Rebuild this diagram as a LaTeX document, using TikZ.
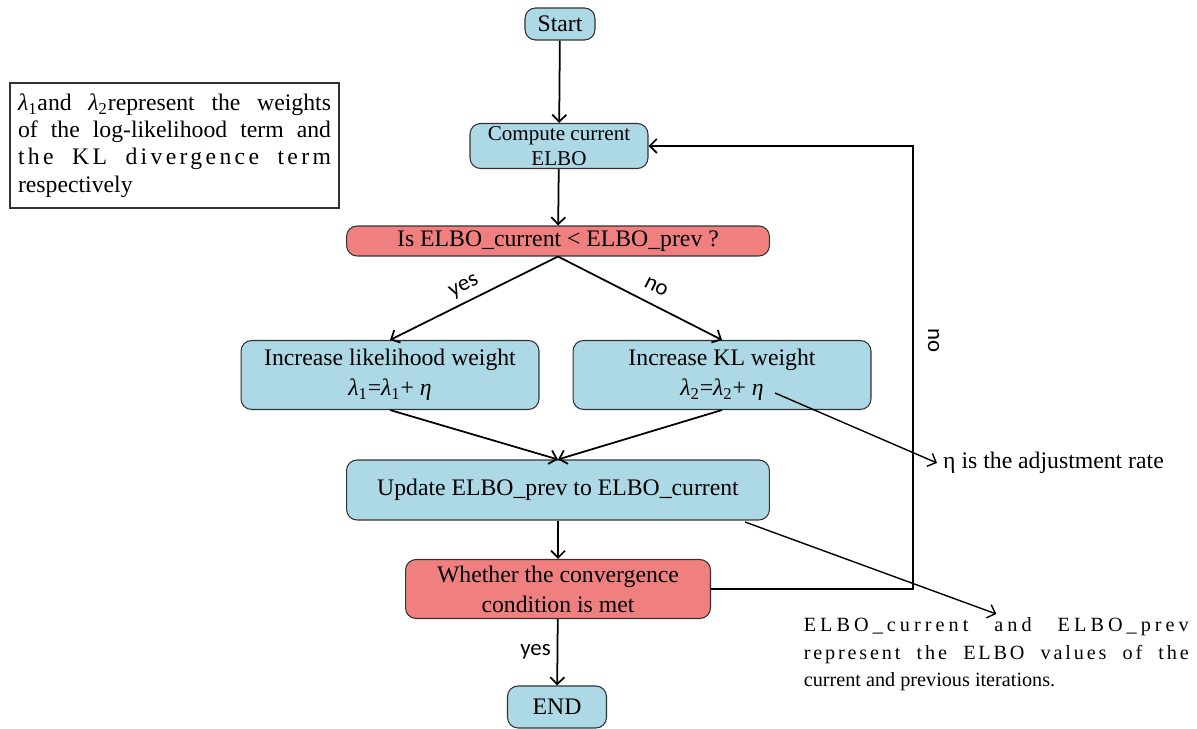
\documentclass[tikz,border=0pt]{standalone}
\usepackage{fontspec}
\setmainfont{Liberation Serif}
\newfontfamily\labelfont{Carlito}
\newfontfamily\trackedfont[LetterSpace=14]{Liberation Serif}
\newfontfamily\widetrackedfont[LetterSpace=20]{Liberation Serif}
\usetikzlibrary{arrows.meta}
\definecolor{boxblue}{RGB}{173,216,230}
\definecolor{boxred}{RGB}{240,128,128}
\definecolor{boxline}{RGB}{50,50,50}
\newcommand{\lam}[1]{\textit{λ}\textsubscript{#1}}
\tikzset{
	>={Straight Barb[length=4pt,width=8pt]},
	bluebox/.style={draw=boxline,fill=boxblue,rounded corners=6pt,line width=.6pt,align=center,inner sep=2pt,font=\fontsize{13.5}{17}\selectfont},
	redbox/.style={bluebox,fill=boxred},
	edge/.style={draw,black,line width=1pt,->},
	thinedge/.style={draw,black,line width=.8pt,->},
	ylabel/.style={font=\labelfont\fontsize{13}{15}\selectfont}
}
\begin{document}
\begin{tikzpicture}[x = {(0.02cm,0cm)},
                    y = {(0cm,-0.02cm)}]

\useasboundingbox (0,0) rectangle (1197,729);

\node[bluebox,minimum width=1.4cm,minimum height=.64cm] (start) at (560,24) {Start};
\node[bluebox,minimum width=3.56cm,minimum height=.9cm,inner ysep=0pt,font=\fontsize{12}{14.5}\selectfont] (compute) at (559,146) {Compute current\\ELBO};
\node[redbox,minimum width=8.46cm,minimum height=.6cm] (decide) at (558,241) {Is ELBO\_current < ELBO\_prev ?};
\node[bluebox,minimum width=5.96cm,minimum height=1.38cm] (incl) at (390,375) {Increase likelihood weight\\\lam{1}=\lam{1}+ \textit{η}};
\node[bluebox,minimum width=5.96cm,minimum height=1.38cm] (inckl) at (722,375) {Increase KL weight\\\lam{2}=\lam{2}+ \textit{η}};
\node[bluebox,minimum width=8.46cm,minimum height=1.2cm] (update) at (558,490) {Update ELBO\_prev to ELBO\_current};
\node[redbox,minimum width=6.1cm,minimum height=1.18cm] (conv) at (558,589) {Whether the convergence\\condition is met};
\node[bluebox,minimum width=1.98cm,minimum height=.84cm] (endn) at (557,707) {END};

\node[draw=boxline,line width=.8pt,text width=6.26cm,align=justify,inner xsep=.16cm,minimum height=2.5cm,font=\fontsize{13.5}{15.5}\selectfont] (legend) at (174.5,145.5)
  {\lam{1}and \lam{2}represent the weights\linebreak of the log-likelihood term and\linebreak {\trackedfont the KL divergence term}\linebreak respectively};

\node[anchor=west,font=\fontsize{13.5}{16}\selectfont] (etanote) at (937,463) {η is the adjustment rate};
\node[anchor=north west,text width=7.7cm,align=justify,inner sep=2pt,font=\fontsize{11.5}{15.5}\selectfont] (elbonote) at (800,614)
  {{\widetrackedfont ELBO\_current and ELBO\_prev}\linebreak {\trackedfont represent the ELBO values of the}\linebreak current and previous iterations.};

\coordinate (turn) at (913,589);
\coordinate (etafrom) at (775,393);
\coordinate (elbofrom) at (745,522);

\draw[edge] (start) to (compute);
\draw[edge] (compute) to (decide);
\draw[edge] (decide.south) to node[ylabel,pos=.52,above=0pt,sloped] {yes} (incl.north);
\draw[edge] (decide.south) to node[ylabel,pos=.55,above=3pt,sloped] {no} (inckl.north);
\draw[edge] (incl.south) to (update.north);
\draw[edge] (inckl.south) to (update.north);
\draw[edge] (update) to (conv);
\draw[edge] (conv) to node[ylabel,left] {yes} (endn);
\draw[edge] (conv.east) -- (turn) |- node[ylabel,pos=.28,anchor=south,rotate=-90,inner sep=8pt] {no} (compute.east);

\draw[thinedge] (etafrom) to (etanote.west);
\draw[thinedge] (elbofrom) to (elbonote.north);

\end{tikzpicture}
\end{document}
